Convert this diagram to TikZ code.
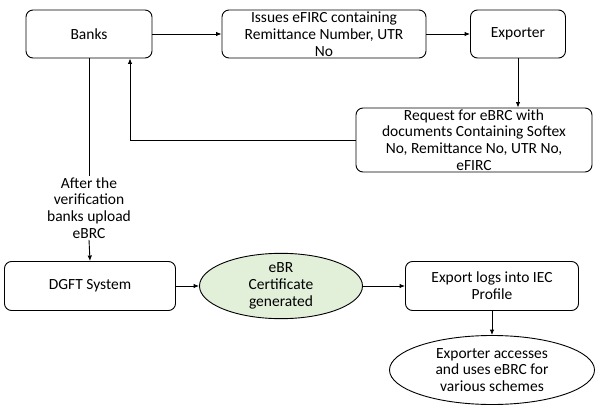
\documentclass[tikz,border=0pt]{standalone}
\usepackage{fontspec}
\setmainfont{Carlito}
\usetikzlibrary{positioning,arrows.meta,shapes.geometric}

\begin{document}
\begin{tikzpicture}[
        x=1pt, y=-1pt,
        font=\fontsize{15.5}{16.8}\selectfont,
        stepbox/.style={draw, line width=0.9pt, rounded corners=7pt, align=center, inner sep=1pt},
        oval/.style={draw, line width=0.9pt, ellipse, align=center, inner sep=0pt},
        arr/.style={-{Latex[length=5.5pt,width=4.5pt]}, line width=0.9pt},
        plain/.style={line width=0.9pt}
    ]
    \useasboundingbox (0,0) rectangle (600,412);

    % Top row
    \node[stepbox, minimum width=126pt, minimum height=48pt] (banks)    at (89,34)  {Banks};
    \node[stepbox, minimum width=204pt, minimum height=48pt] (issues)   at (324,34) {Issues eFIRC containing\\Remittance Number, UTR\\No};
    \node[stepbox, minimum width=95pt,  minimum height=48pt] (exporter) at (518,34) {Exporter};
    \node[stepbox, minimum width=236pt, minimum height=64pt] (request)  at (474,140)
        {Request for eBRC with\\documents Containing Softex\\No, Remittance No, UTR No,\\eFIRC};

    % Upload label between Banks and DGFT
    \node[align=center, inner sep=1pt] (upload) at (89,208) {After the\\verification\\banks upload\\eBRC};

    % Bottom row
    \node[stepbox, minimum width=171pt, minimum height=49pt] (dgft) at (90,286)  {DGFT System};
    \node[oval, fill={rgb,255:red,226;green,239;blue,217}, minimum width=163pt, minimum height=62pt] (cert) at (281,286)
        {eBR\\Certificate\\generated};
    \node[stepbox, minimum width=173pt, minimum height=49pt] (logs) at (492,286) {Export logs into IEC\\Profile};
    \node[oval, minimum width=205pt, minimum height=69pt] (final) at (492,370)
        {Exporter accesses\\and uses eBRC for\\various schemes};

    % Connectors
    \draw[arr] (banks.east) -- (issues.west);
    \draw[arr] (issues.east) -- (exporter.west);
    \draw[arr] (exporter.south) -- (exporter.south |- request.north);
    \draw[arr] (request.west) -| ([xshift=41pt]banks.south);
    \draw[plain] (banks.south) -- (upload.north);
    \draw[arr] (upload.south) -- (dgft.north);
    \draw[arr] (dgft.east) -- (cert.west);
    \draw[arr] (cert.east) -- (logs.west);
    \draw[arr] (logs.south) -- (final.north);
\end{tikzpicture}
\end{document}
